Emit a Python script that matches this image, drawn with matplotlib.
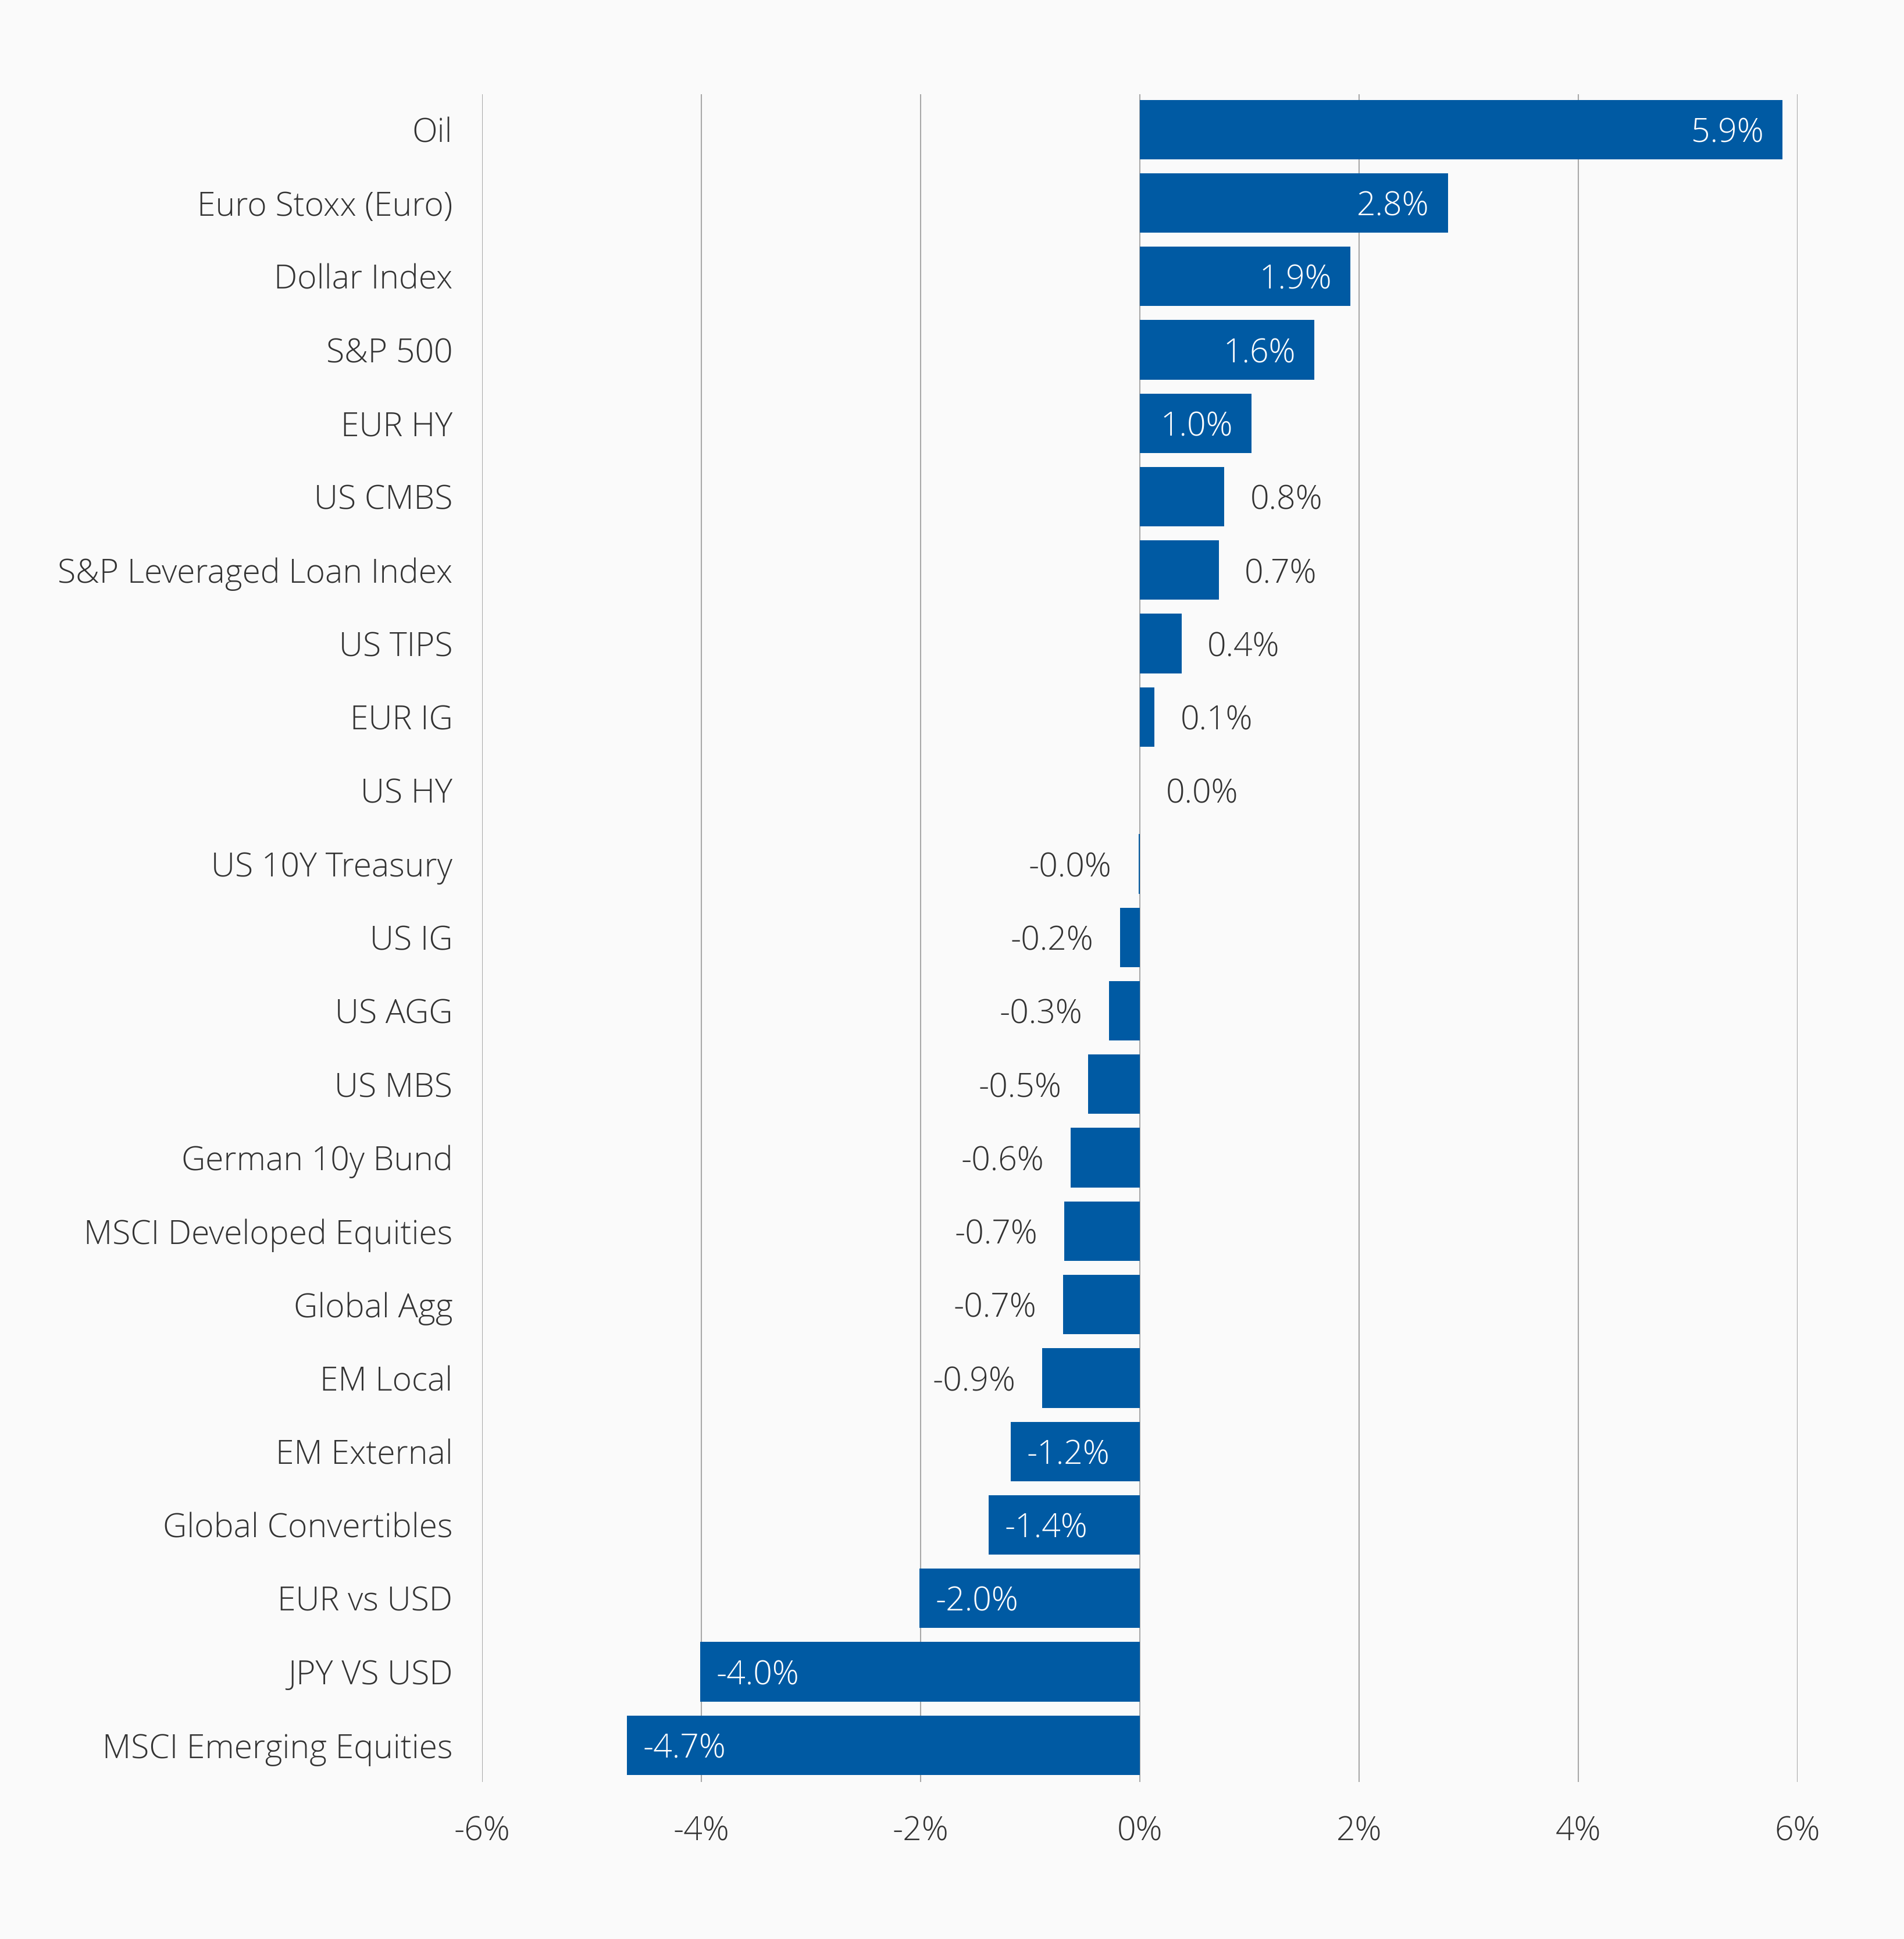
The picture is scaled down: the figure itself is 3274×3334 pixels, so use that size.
import matplotlib
matplotlib.use("Agg")
import matplotlib.pyplot as plt
from matplotlib.ticker import FuncFormatter

categories = [
    "Oil", "Euro Stoxx (Euro)", "Dollar Index", "S&P 500", "EUR HY", "US CMBS",
    "S&P Leveraged Loan Index", "US TIPS", "EUR IG", "US HY", "US 10Y Treasury",
    "US IG", "US AGG", "US MBS", "German 10y Bund", "MSCI Developed Equities",
    "Global Agg", "EM Local", "EM External", "Global Convertibles", "EUR vs USD",
    "JPY VS USD", "MSCI Emerging Equities",
]
values = [
    5.86, 2.81, 1.92, 1.59, 1.02, 0.77,
    0.72, 0.38, 0.135, 0.002, -0.013,
    -0.18, -0.28, -0.47, -0.63, -0.69,
    -0.70, -0.89, -1.18, -1.38, -2.01,
    -4.01, -4.68,
]
xticks = [-6, -4, -2, 0, 2, 4, 6]

BG = "#FAFAFA"
BAR = "#005AA3"
TXT = "#333333"
GRID = "#A8A8A8"
FONT = ["Open Sans", "DejaVu Sans"]
FS = 41

plt.rcParams["font.family"] = FONT
plt.rcParams["font.weight"] = "light"

fig = plt.figure(figsize=(32.74, 33.34), dpi=100, facecolor=BG)
ax = fig.add_axes([0.2532, 0.0810, 0.9441 - 0.2532, 0.9514 - 0.0810])
ax.set_facecolor(BG)

y = list(range(len(categories)))
ax.barh(y, values, height=0.81, color=BAR, zorder=3)

ax.set_xlim(-6, 6)
ax.set_ylim(len(categories) - 0.5, -0.48)
ax.set_xticks(xticks)
ax.xaxis.set_major_formatter(FuncFormatter(lambda v, p: f"{v:.0f}%"))
ax.set_yticks(y)
ax.set_yticklabels(categories)
ax.grid(axis="x", color=GRID, linewidth=1.5, zorder=0)
ax.grid(axis="y", visible=False)
for s in ax.spines.values():
    s.set_visible(False)
ax.tick_params(axis="both", length=0, colors=TXT, labelsize=FS)
ax.tick_params(axis="x", pad=41)
ax.tick_params(axis="y", pad=36.5)
for lbl in ax.get_xticklabels() + ax.get_yticklabels():
    lbl.set_fontweight("light")
    lbl.set_color(TXT)

for yi, v in zip(y, values):
    label = f"{v:.1f}%"
    if abs(v) >= 1.0:
        if v > 0:
            off, ha, col = -23, "right", "white"
        else:
            off, ha, col = 20, "left", "white"
    else:
        if v >= 0:
            off, ha, col = 32, "left", TXT
        else:
            off, ha, col = -33, "right", TXT
    ax.annotate(label, (v, yi), xytext=(off, 0), textcoords="offset points",
                ha=ha, va="center_baseline", color=col, fontsize=FS,
                fontweight="light", zorder=4)

fig.savefig("out.png", dpi=100, facecolor=BG)
